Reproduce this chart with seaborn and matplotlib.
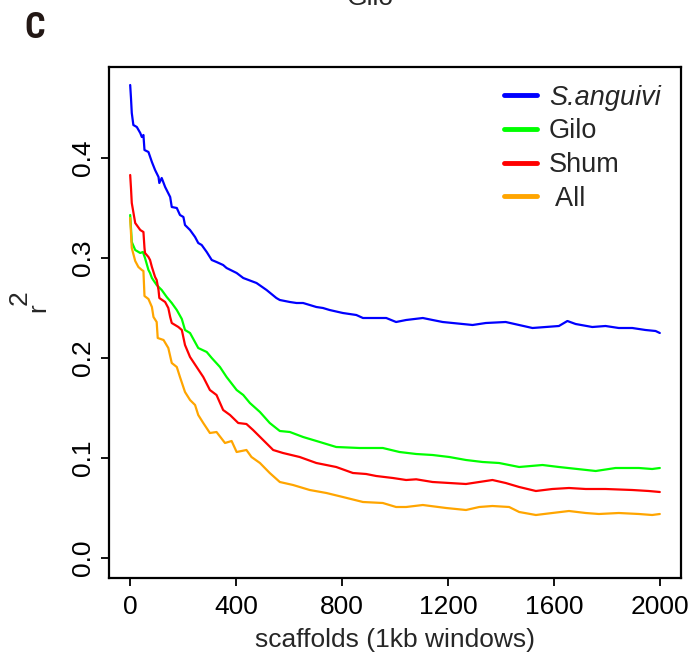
import seaborn as sns
import matplotlib.pyplot as plt

# values (window index vs mean r^2)
blue_x = [0, 3, 6, 12, 25, 38, 44, 50, 54, 69, 82, 94, 107, 110, 119, 132, 151, 157, 176, 188,
          201, 207, 226, 245, 257, 270, 289, 308, 326, 351, 364, 402, 427, 477, 515, 552, 565, 603,
          628, 653, 703, 728, 753, 803, 854, 879, 967, 1004, 1042, 1105, 1142, 1180, 1293, 1343,
          1418, 1519, 1569, 1619, 1651, 1682, 1745, 1795, 1845, 1896, 1946, 1984, 2000]
blue_y = [0.473, 0.460, 0.445, 0.433, 0.431, 0.425, 0.421, 0.423, 0.408, 0.406, 0.396, 0.388,
          0.381, 0.375, 0.380, 0.371, 0.361, 0.351, 0.350, 0.343, 0.341, 0.333, 0.328, 0.321,
          0.315, 0.313, 0.306, 0.298, 0.296, 0.293, 0.290, 0.285, 0.280, 0.275, 0.268, 0.260,
          0.258, 0.256, 0.255, 0.255, 0.251, 0.250, 0.248, 0.245, 0.243, 0.240, 0.240, 0.236,
          0.238, 0.240, 0.238, 0.236, 0.233, 0.235, 0.236, 0.230, 0.231, 0.232, 0.237, 0.234,
          0.231, 0.232, 0.230, 0.230, 0.228, 0.227, 0.225]

green_x = [0, 3, 6, 19, 38, 48, 56, 69, 75, 82, 100, 119, 138, 157, 176, 195, 207, 226, 257, 289,
           308, 339, 364, 402, 427, 452, 490, 527, 565, 603, 653, 716, 778, 866, 954, 1017, 1080,
           1142, 1205, 1268, 1331, 1393, 1469, 1557, 1619, 1758, 1833, 1921, 1971, 2000]
green_y = [0.343, 0.330, 0.316, 0.308, 0.305, 0.306, 0.300, 0.288, 0.285, 0.280, 0.273, 0.268,
           0.261, 0.255, 0.248, 0.239, 0.228, 0.225, 0.210, 0.206, 0.200, 0.191, 0.181, 0.168,
           0.163, 0.155, 0.146, 0.135, 0.127, 0.126, 0.121, 0.116, 0.111, 0.110, 0.110, 0.106,
           0.104, 0.103, 0.101, 0.098, 0.096, 0.095, 0.091, 0.093, 0.091, 0.087, 0.090, 0.090,
           0.089, 0.090]

red_x = [0, 3, 6, 19, 38, 50, 54, 56, 69, 75, 82, 94, 100, 107, 110, 132, 144, 151, 157, 182,
         195, 207, 226, 251, 276, 301, 326, 351, 377, 408, 439, 464, 502, 540, 577, 640, 703, 778,
         841, 891, 929, 992, 1042, 1080, 1142, 1205, 1268, 1368, 1418, 1469, 1532, 1594, 1657,
         1720, 1795, 1896, 1958, 2000]
red_y = [0.383, 0.370, 0.355, 0.335, 0.328, 0.326, 0.310, 0.305, 0.301, 0.298, 0.291, 0.281,
         0.278, 0.268, 0.260, 0.256, 0.250, 0.241, 0.235, 0.231, 0.228, 0.213, 0.201, 0.191,
         0.181, 0.168, 0.163, 0.148, 0.143, 0.135, 0.134, 0.128, 0.118, 0.108, 0.105, 0.101,
         0.095, 0.091, 0.085, 0.084, 0.082, 0.080, 0.078, 0.0787, 0.076, 0.075, 0.074, 0.078,
         0.075, 0.071, 0.067, 0.069, 0.070, 0.069, 0.069, 0.068, 0.067, 0.066]

orange_x = [0, 3, 6, 19, 31, 44, 50, 54, 69, 82, 88, 100, 104, 126, 144, 157, 176, 188, 207, 226,
            245, 257, 276, 301, 326, 358, 383, 402, 439, 458, 490, 527, 565, 615, 678, 741, 803,
            879, 954, 1004, 1042, 1105, 1193, 1268, 1318, 1368, 1431, 1469, 1532, 1594, 1657,
            1720, 1770, 1845, 1921, 1971, 2000]
orange_y = [0.340, 0.325, 0.310, 0.297, 0.291, 0.288, 0.287, 0.262, 0.259, 0.251, 0.241, 0.236,
            0.220, 0.218, 0.210, 0.195, 0.191, 0.181, 0.166, 0.158, 0.153, 0.143, 0.135, 0.125,
            0.126, 0.115, 0.117, 0.106, 0.108, 0.101, 0.095, 0.085, 0.076, 0.073, 0.068, 0.065,
            0.061, 0.056, 0.055, 0.051, 0.051, 0.053, 0.050, 0.048, 0.051, 0.052, 0.051, 0.046,
            0.043, 0.045, 0.047, 0.045, 0.044, 0.045, 0.044, 0.043, 0.044]

labels = ["S.anguivi", "Gilo", "Shum", " All"]
colors = ["#0000FF", "#00FF00", "#FF0000", "#FFA500"]
x_ticks = [0, 400, 800, 1200, 1600, 2000]
y_ticks = [0.0, 0.1, 0.2, 0.3, 0.4]

sns.set_style("ticks")
plt.rcParams['font.family'] = ['Liberation Sans', 'DejaVu Sans']

W, H = 691, 658
fig = plt.figure(figsize=(W / 100, H / 100), dpi=100)
ax = fig.add_axes([109 / W, 1 - 578 / H, 572 / W, 511 / H])

series = [(blue_x, blue_y), (green_x, green_y), (red_x, red_y), (orange_x, orange_y)]
for (xs, ys), lab, col in zip(series, labels, colors):
    sns.lineplot(x=xs, y=ys, ax=ax, color=col, lw=1.6, label=lab)

ax.set_xlim(-80, 2080)
ax.set_ylim(-0.020, 0.491)
ax.set_xticks(x_ticks)
ax.set_xticklabels([str(t) for t in x_ticks])
ax.set_yticks(y_ticks)
ax.set_yticklabels([f"{t:.1f}" for t in y_ticks], rotation=90, va="center")
ax.tick_params(direction="out", length=6, width=1.3, labelsize=19, colors="black")
ax.tick_params(axis="x", pad=6.5)
ax.tick_params(axis="y", pad=4)
for sp in ax.spines.values():
    sp.set_visible(True)
    sp.set_linewidth(1.6)
    sp.set_color("black")

ax.set_xlabel("scaffolds (1kb windows)", fontsize=19, labelpad=6.5)
ax.set_ylabel("")
# r^2 the way base R draws it: superscript nearly full size
fig.text(38 / W, 1 - 308 / H, "r", rotation=90, ha="center", va="center", fontsize=19)
fig.text(20 / W, 1 - 297.5 / H, "2", rotation=90, ha="center", va="center", fontsize=19)

leg = ax.legend(loc="upper left", bbox_to_anchor=(0.69, 0.965), frameon=False,
                fontsize=19.5, borderpad=0, borderaxespad=0, handlelength=1.22,
                handletextpad=0.45, labelspacing=0.28)
for h in leg.get_lines():
    h.set_linewidth(3.5)
leg.get_texts()[0].set_fontstyle("italic")

fig.text(370 / W, 1 - 5 / H, "Gilo", ha="center", va="baseline", fontsize=19)
fig.text(24 / W, 1 - 38 / H, "C", ha="left", va="baseline", fontsize=26,
         fontweight="bold", family=["Roboto Condensed", "Liberation Sans"], color="#231815")

fig.savefig("out.png", dpi=100)
